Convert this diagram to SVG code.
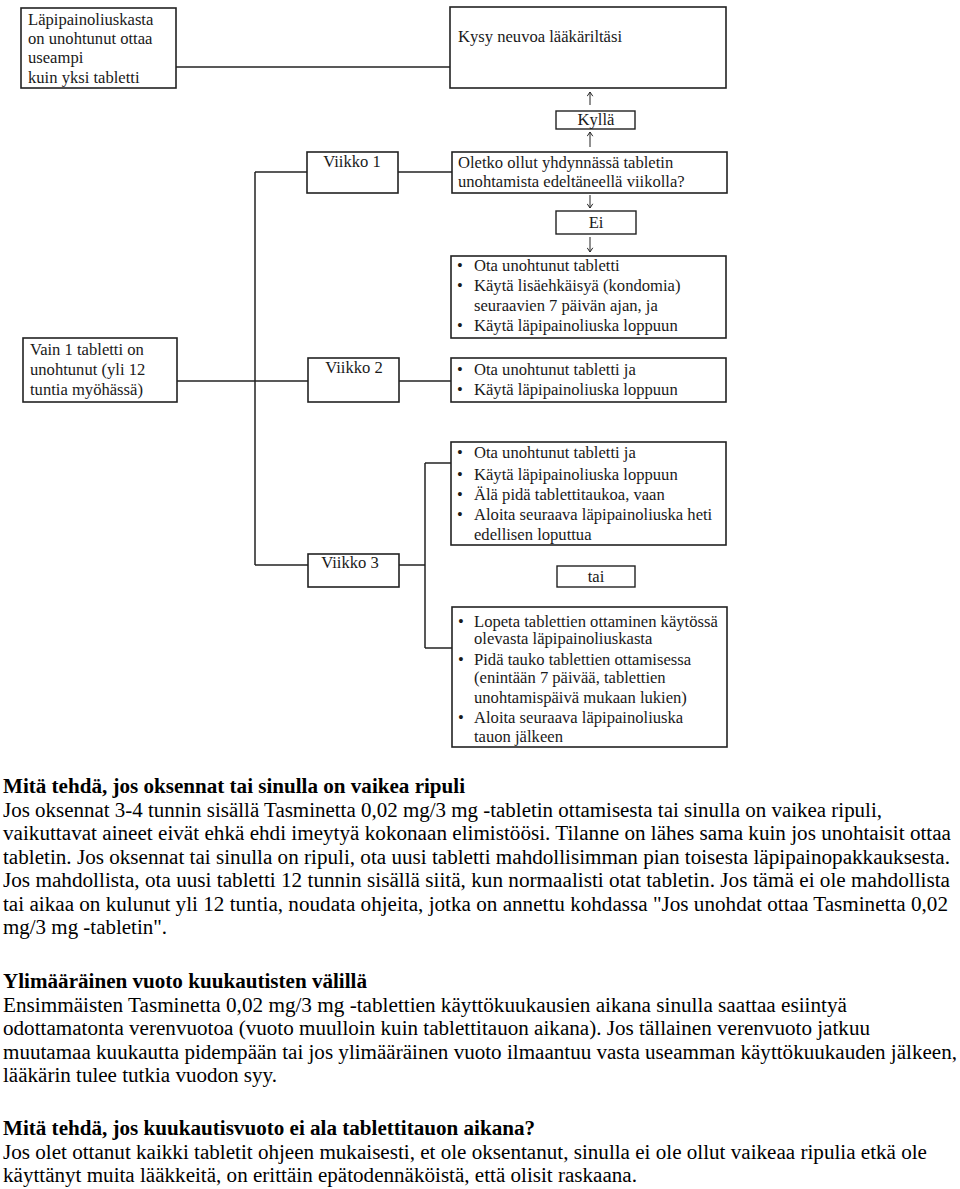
<svg xmlns="http://www.w3.org/2000/svg" width="960" height="1189" viewBox="0 0 960 1189">
<defs>
<style>
.box{fill:#fff;stroke:#222;stroke-width:1.6}
.lbl{fill:#fff;stroke:#222;stroke-width:1.4}
.c{fill:none;stroke:#222;stroke-width:1.5}
.ar{fill:none;stroke:#222;stroke-width:1}
.t{font-family:"Liberation Serif","Times New Roman",serif;font-size:16.6px;fill:#1a1a1a}
.m{text-anchor:middle}
.b{font-family:"Liberation Serif","Times New Roman",serif;font-size:20.5px;fill:#000}
.h{font-weight:bold}
</style>
<marker id="ah" viewBox="0 0 10 10" refX="9" refY="5" markerWidth="7" markerHeight="7" orient="auto" markerUnits="userSpaceOnUse">
<path d="M3,1 L9,5 L3,9" fill="none" stroke="#222" stroke-width="1.4"/>
</marker>
</defs>
<rect width="960" height="1189" fill="#fff"/>

<g id="connectors">
<line class="c" x1="176" y1="67" x2="450" y2="67"/>
<line class="c" x1="255" y1="172" x2="307" y2="172"/>
<line class="c" x1="255" y1="172" x2="255" y2="565"/>
<line class="c" x1="255" y1="565" x2="308" y2="565"/>
<line class="c" x1="177" y1="381" x2="308" y2="381"/>
<line class="c" x1="398" y1="172" x2="452" y2="172"/>
<line class="c" x1="399" y1="381" x2="451" y2="381"/>
<line class="c" x1="399" y1="565" x2="425" y2="565"/>
<line class="c" x1="425" y1="463" x2="425" y2="648"/>
<line class="c" x1="425" y1="463" x2="451" y2="463"/>
<line class="c" x1="425" y1="648" x2="452" y2="648"/>
<line class="ar" x1="590" y1="105" x2="590" y2="92" marker-end="url(#ah)"/>
<line class="ar" x1="590" y1="147" x2="590" y2="132" marker-end="url(#ah)"/>
<line class="ar" x1="590" y1="195" x2="590" y2="208" marker-end="url(#ah)"/>
<line class="ar" x1="590" y1="237" x2="590" y2="252" marker-end="url(#ah)"/>
</g>

<g id="n-useampi">
<rect class="box" x="21" y="8" width="155" height="80"/>
<text class="t" x="28" y="25">Läpipainoliuskasta</text>
<text class="t" x="28" y="44">on unohtunut ottaa</text>
<text class="t" x="28" y="63">useampi</text>
<text class="t" x="28" y="83">kuin yksi tabletti</text>
</g>

<g id="n-kysy">
<rect class="box" x="450" y="7" width="276" height="81"/>
<text class="t" x="458" y="42">Kysy neuvoa lääkäriltäsi</text>
</g>

<g id="n-kylla">
<rect class="lbl" x="556" y="111" width="79" height="18"/>
<text class="t m" x="596" y="125">Kyllä</text>
</g>

<g id="n-viikko1">
<rect class="box" x="307" y="152" width="91" height="41"/>
<text class="t m" x="352" y="167">Viikko 1</text>
</g>

<g id="n-kysymys">
<rect class="box" x="452" y="152" width="275" height="41"/>
<text class="t" x="458" y="168">Oletko ollut yhdynnässä tabletin</text>
<text class="t" x="458" y="187">unohtamista edeltäneellä viikolla?</text>
</g>

<g id="n-ei">
<rect class="lbl" x="556" y="211" width="80" height="23"/>
<text class="t m" x="596" y="228">Ei</text>
</g>

<g id="n-viikko1-ohje">
<rect class="box" x="451" y="256" width="275" height="82"/>
<text class="t" x="457" y="271">•</text><text class="t" x="474" y="271">Ota unohtunut tabletti</text>
<text class="t" x="457" y="291">•</text><text class="t" x="474" y="291">Käytä lisäehkäisyä (kondomia)</text>
<text class="t" x="474" y="311">seuraavien 7 päivän ajan, ja</text>
<text class="t" x="457" y="331">•</text><text class="t" x="474" y="331">Käytä läpipainoliuska loppuun</text>
</g>

<g id="n-vain1">
<rect class="box" x="23" y="338" width="154" height="64"/>
<text class="t" x="30" y="355">Vain 1 tabletti on</text>
<text class="t" x="30" y="375">unohtunut (yli 12</text>
<text class="t" x="30" y="395">tuntia myöhässä)</text>
</g>

<g id="n-viikko2">
<rect class="box" x="308" y="358" width="91" height="44"/>
<text class="t m" x="354" y="373">Viikko 2</text>
</g>

<g id="n-viikko2-ohje">
<rect class="box" x="451" y="358" width="275" height="44"/>
<text class="t" x="457" y="375">•</text><text class="t" x="474" y="375">Ota unohtunut tabletti ja</text>
<text class="t" x="457" y="395">•</text><text class="t" x="474" y="395">Käytä läpipainoliuska loppuun</text>
</g>

<g id="n-viikko3-a">
<rect class="box" x="451" y="442" width="275" height="103"/>
<text class="t" x="457" y="458">•</text><text class="t" x="474" y="458">Ota unohtunut tabletti  ja</text>
<text class="t" x="457" y="480">•</text><text class="t" x="474" y="480">Käytä läpipainoliuska loppuun</text>
<text class="t" x="457" y="500">•</text><text class="t" x="474" y="500">Älä pidä tablettitaukoa, vaan</text>
<text class="t" x="457" y="520">•</text><text class="t" x="474" y="520">Aloita seuraava läpipainoliuska heti</text>
<text class="t" x="474" y="540">edellisen loputtua</text>
</g>

<g id="n-viikko3">
<rect class="box" x="308" y="554" width="91" height="33"/>
<text class="t m" x="350" y="568">Viikko 3</text>
</g>

<g id="n-tai">
<rect class="lbl" x="557" y="566" width="78" height="21"/>
<text class="t m" x="596" y="582">tai</text>
</g>

<g id="n-viikko3-b">
<rect class="box" x="452" y="607" width="275" height="140"/>
<text class="t" x="458" y="627">•</text><text class="t" x="474" y="627">Lopeta tablettien ottaminen käytössä</text>
<text class="t" x="474" y="644">olevasta läpipainoliuskasta</text>
<text class="t" x="458" y="665">•</text><text class="t" x="474" y="665">Pidä tauko tablettien ottamisessa</text>
<text class="t" x="474" y="683">(enintään 7 päivää, tablettien</text>
<text class="t" x="474" y="703">unohtamispäivä mukaan lukien)</text>
<text class="t" x="458" y="723">•</text><text class="t" x="474" y="723">Aloita seuraava läpipainoliuska</text>
<text class="t" x="474" y="742">tauon jälkeen</text>
</g>

<g id="teksti">
<text class="b h" x="3" y="793" textLength="462" lengthAdjust="spacingAndGlyphs">Mitä tehdä, jos oksennat tai sinulla on vaikea ripuli</text>
<text class="b" x="3" y="816.5" textLength="879" lengthAdjust="spacingAndGlyphs">Jos oksennat 3-4 tunnin sisällä Tasminetta 0,02 mg/3 mg -tabletin ottamisesta tai sinulla on vaikea ripuli,</text>
<text class="b" x="3" y="840" textLength="948" lengthAdjust="spacingAndGlyphs">vaikuttavat aineet eivät ehkä ehdi imeytyä kokonaan elimistöösi. Tilanne on lähes sama kuin jos unohtaisit ottaa</text>
<text class="b" x="3" y="863.5" textLength="947" lengthAdjust="spacingAndGlyphs">tabletin. Jos oksennat tai sinulla on ripuli, ota uusi tabletti mahdollisimman pian toisesta läpipainopakkauksesta.</text>
<text class="b" x="3" y="887" textLength="947" lengthAdjust="spacingAndGlyphs">Jos mahdollista, ota uusi tabletti 12 tunnin sisällä siitä, kun normaalisti otat tabletin. Jos tämä ei ole mahdollista</text>
<text class="b" x="3" y="910.5" textLength="945" lengthAdjust="spacingAndGlyphs">tai aikaa on kulunut yli 12 tuntia, noudata ohjeita, jotka on annettu kohdassa "Jos unohdat ottaa Tasminetta 0,02</text>
<text class="b" x="3" y="934" textLength="164" lengthAdjust="spacingAndGlyphs">mg/3 mg -tabletin".</text>

<text class="b h" x="3" y="988" textLength="364" lengthAdjust="spacingAndGlyphs">Ylimääräinen vuoto kuukautisten välillä</text>
<text class="b" x="3" y="1011.5" textLength="844" lengthAdjust="spacingAndGlyphs">Ensimmäisten Tasminetta 0,02 mg/3 mg -tablettien käyttökuukausien aikana sinulla saattaa esiintyä</text>
<text class="b" x="3" y="1035" textLength="867" lengthAdjust="spacingAndGlyphs">odottamatonta verenvuotoa (vuoto muulloin kuin tablettitauon aikana). Jos tällainen verenvuoto jatkuu</text>
<text class="b" x="3" y="1058.5" textLength="954" lengthAdjust="spacingAndGlyphs">muutamaa kuukautta pidempään tai jos ylimääräinen vuoto ilmaantuu vasta useamman käyttökuukauden jälkeen,</text>
<text class="b" x="3" y="1082" textLength="274" lengthAdjust="spacingAndGlyphs">lääkärin tulee tutkia vuodon syy.</text>

<text class="b h" x="3" y="1135" textLength="532" lengthAdjust="spacingAndGlyphs">Mitä tehdä, jos kuukautisvuoto ei ala tablettitauon aikana?</text>
<text class="b" x="3" y="1158.5" textLength="924" lengthAdjust="spacingAndGlyphs">Jos olet ottanut kaikki tabletit ohjeen mukaisesti, et ole oksentanut, sinulla ei ole ollut vaikeaa ripulia etkä ole</text>
<text class="b" x="3" y="1182" textLength="634" lengthAdjust="spacingAndGlyphs">käyttänyt muita lääkkeitä, on erittäin epätodennäköistä, että olisit raskaana.</text>
</g>
</svg>
